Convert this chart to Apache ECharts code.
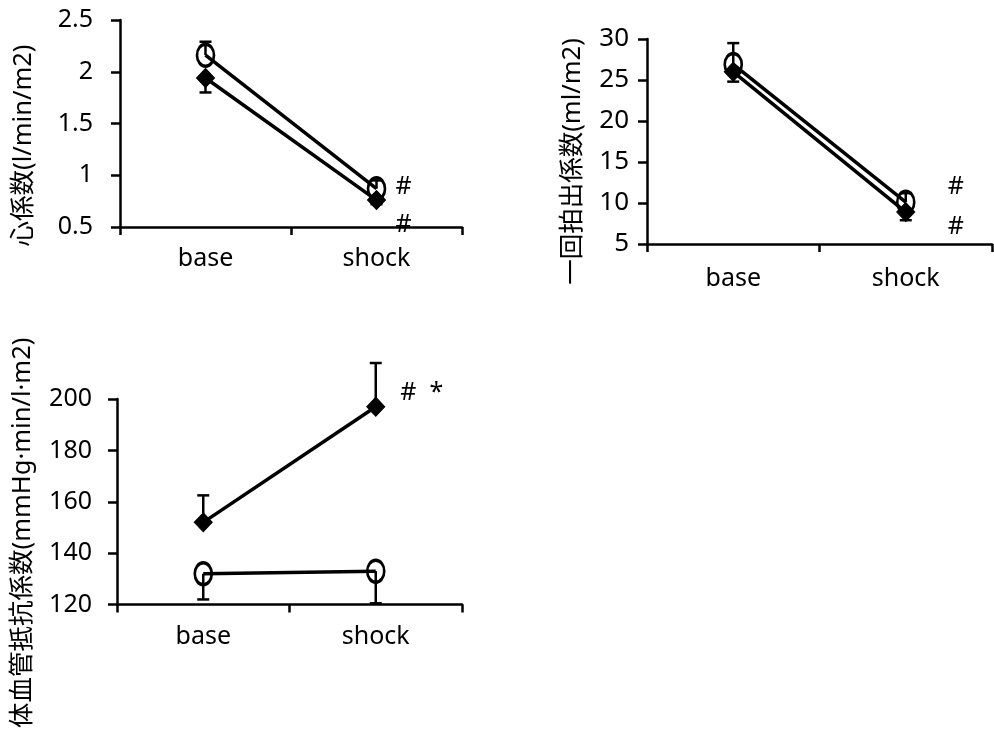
<!DOCTYPE html>
<html>
<head>
<meta charset="utf-8">
<script src="https://cdn.jsdelivr.net/npm/echarts@6/dist/echarts.min.js"></script>
<style>
html,body{margin:0;padding:0;background:#fff;}
#chart{width:994px;height:730px;}
</style>
</head>
<body>
<div id="chart"></div>
<script>
// ---- data ----
const categories = ['base', 'shock'];

// chart 1: 心係数
const ciTicks = [0.5, 1, 1.5, 2, 2.5];
const ciOpen = [2.16, 0.87];
const ciOpenErrEnd = [2.29, 0.95];
const ciFilled = [1.94, 0.76];
const ciFilledErrEnd = [1.80, 0.72];
const ciOpenMark = ['', '#'];
const ciFilledMark = ['', '#'];

// chart 2: 一回拍出係数
const siTicks = [5, 10, 15, 20, 25, 30];
const siOpen = [26.9, 10.1];
const siOpenErrEnd = [29.5, 11.2];
const siFilled = [26.0, 8.9];
const siFilledErrEnd = [24.8, 7.9];
const siOpenMark = ['', '#'];
const siFilledMark = ['', '#'];

// chart 3: 体血管抵抗係数
const svrTicks = [120, 140, 160, 180, 200];
const svrOpen = [132, 133];
const svrOpenErrEnd = [122, 120.5];
const svrFilled = [152, 197];
const svrFilledErrEnd = [162.5, 214];
const svrOpenMark = ['', ''];
const svrFilledMark = ['', '#  *'];

const yNames = ['心係数(l/min/m2)', '一回拍出係数(ml/m2)', '体血管抵抗係数(mmHg·min/l·m2)'];

// ---- styling ----
const FONT = '"Noto Sans", "Noto Sans CJK JP", sans-serif';
const BLACK = '#000';

const chart = echarts.init(document.getElementById('chart'), null, {renderer: 'canvas'});

function xAxisFor(gi, margin) {
  return {
    type: 'category', gridIndex: gi, data: categories,
    boundaryGap: true,
    axisLine: {show: true, lineStyle: {color: BLACK, width: 2.5}},
    axisTick: {show: true, length: 8, lineStyle: {color: BLACK, width: 2.5}},
    axisLabel: {color: BLACK, fontSize: 25, fontFamily: FONT, margin: margin},
    splitLine: {show: false}
  };
}
function yAxisFor(gi, ticks, name, gap, shift, labelMargin, fs) {
  return {
    type: 'value', gridIndex: gi,
    min: ticks[0], max: ticks[ticks.length - 1], interval: ticks[1] - ticks[0],
    name: name, nameLocation: 'middle', nameRotate: 90, nameGap: gap,
    nameTextStyle: {color: BLACK, fontSize: 25.5, fontFamily: FONT, padding: [0, shift * 2, 0, 0]},
    axisLine: {show: true, lineStyle: {color: BLACK, width: 2.5}},
    axisTick: {show: true, length: 9, lineStyle: {color: BLACK, width: 2.5}},
    axisLabel: {color: BLACK, fontSize: fs, fontFamily: FONT, margin: labelMargin},
    splitLine: {show: false}
  };
}

function withMarks(values, marks, offset) {
  return values.map((v, i) => {
    const item = {value: v};
    if (marks[i]) {
      item.label = {
        show: true, formatter: marks[i], position: 'inside', offset: offset,
        color: BLACK, fontSize: 25, fontFamily: FONT
      };
    }
    return item;
  });
}

function lineSeries(gi, values, marks, offset, kind) {
  const open = kind === 'open';
  return {
    type: 'line', xAxisIndex: gi, yAxisIndex: gi,
    data: withMarks(values, marks, offset),
    symbol: open ? 'circle' : 'diamond',
    symbolSize: open ? [17, 22] : [18, 19],
    lineStyle: {color: BLACK, width: 3.5},
    itemStyle: open
      ? {color: 'rgba(255,255,255,0)', borderColor: BLACK, borderWidth: 3}
      : {color: BLACK, borderColor: BLACK, borderWidth: 1},
    label: {show: false},
    emphasis: {disabled: true},
    z: open ? 4 : 3,
    animation: false
  };
}

function errSeries(gi, values, ends) {
  return {
    type: 'custom', xAxisIndex: gi, yAxisIndex: gi,
    data: values.map((v, i) => [i, v, ends[i]]),
    encode: {x: 0, y: [1, 2]},
    clip: false,
    z: 2,
    renderItem: function (params, api) {
      const p0 = api.coord([api.value(0), api.value(1)]);
      const p1 = api.coord([api.value(0), api.value(2)]);
      const hw = 6;
      const st = {stroke: BLACK, lineWidth: 2.5};
      return {
        type: 'group',
        children: [
          {type: 'line', shape: {x1: p0[0], y1: p0[1], x2: p1[0], y2: p1[1]}, style: st},
          {type: 'line', shape: {x1: p1[0] - hw, y1: p1[1], x2: p1[0] + hw, y2: p1[1]}, style: st}
        ]
      };
    },
    animation: false
  };
}

const option = {
  backgroundColor: '#fff',
  animation: false,
  grid: [
    {left: 120, top: 20, width: 342, height: 207},
    {left: 647, top: 39, width: 345, height: 205},
    {left: 117, top: 399, width: 345, height: 207}
  ],
  xAxis: [xAxisFor(0, 19), xAxisFor(1, 22), xAxisFor(2, 20)],
  yAxis: [
    yAxisFor(0, ciTicks, yNames[0], 84, 22, 27, 25),
    yAxisFor(1, siTicks, yNames[1], 62, 20, 18, 26),
    yAxisFor(2, svrTicks, yNames[2], 82, 31, 25, 25)
  ],
  series: [
    errSeries(0, ciOpen, ciOpenErrEnd),
    errSeries(0, ciFilled, ciFilledErrEnd),
    lineSeries(0, ciFilled, ciFilledMark, [27, 25], 'filled'),
    lineSeries(0, ciOpen, ciOpenMark, [27, -2], 'open'),

    errSeries(1, siOpen, siOpenErrEnd),
    errSeries(1, siFilled, siFilledErrEnd),
    lineSeries(1, siFilled, siFilledMark, [50, 15], 'filled'),
    lineSeries(1, siOpen, siOpenMark, [50, -15], 'open'),

    errSeries(2, svrOpen, svrOpenErrEnd),
    errSeries(2, svrFilled, svrFilledErrEnd),
    lineSeries(2, svrFilled, svrFilledMark, [46, -14], 'filled'),
    lineSeries(2, svrOpen, svrOpenMark, [0, 0], 'open')
  ]
};
chart.setOption(option);
</script>
</body>
</html>
